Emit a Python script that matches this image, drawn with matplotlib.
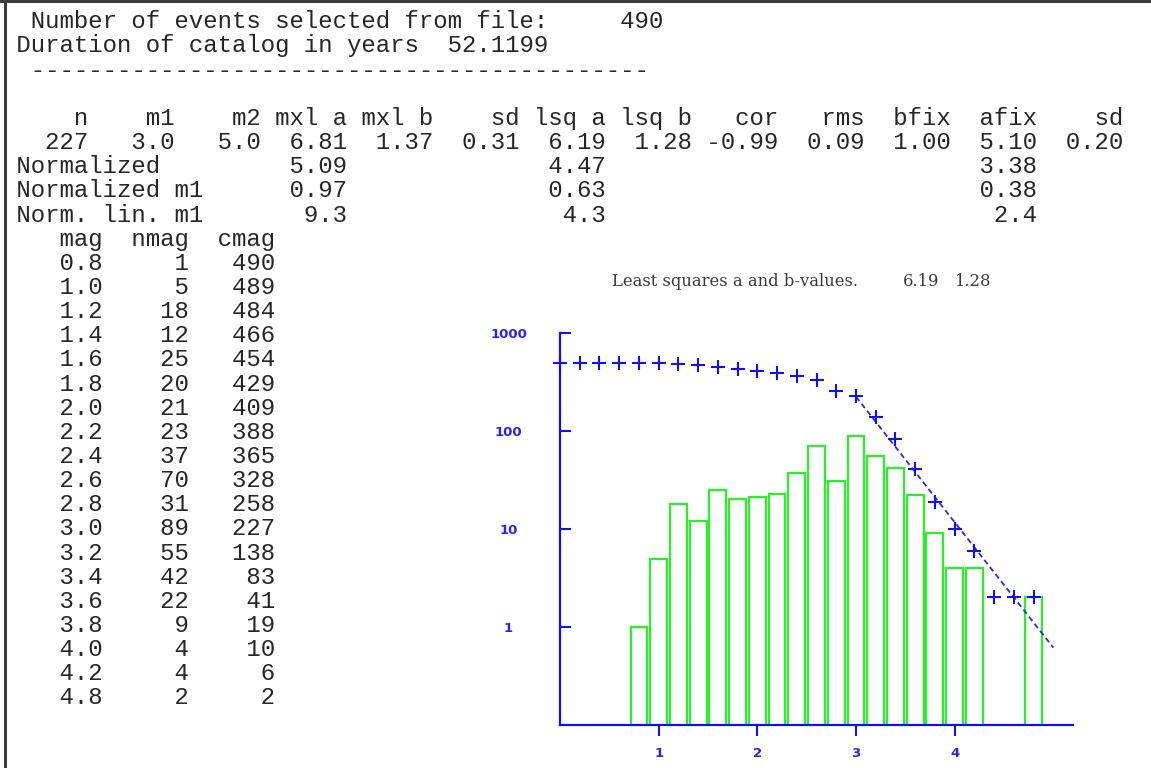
import matplotlib
matplotlib.use("Agg")
import matplotlib.pyplot as plt
from matplotlib.lines import Line2D
from matplotlib.font_manager import FontProperties

# ---------------------------------------------------------------- data
n_events = 490
duration_years = 52.1199

fit_header = ["n", "m1", "m2", "mxl a", "mxl b", "sd", "lsq a", "lsq b",
              "cor", "rms", "bfix", "afix", "sd"]
fit_values = ["227", "3.0", "5.0", "6.81", "1.37", "0.31", "6.19", "1.28",
              "-0.99", "0.09", "1.00", "5.10", "0.20"]

norm_labels = ["Normalized", "Normalized m1", "Norm. lin. m1"]
norm_mxl = ["5.09", "0.97", "9.3"]
norm_lsq = ["4.47", "0.63", "4.3"]
norm_fix = ["3.38", "0.38", "2.4"]

mag = [0.8, 1.0, 1.2, 1.4, 1.6, 1.8, 2.0, 2.2, 2.4, 2.6, 2.8, 3.0, 3.2,
       3.4, 3.6, 3.8, 4.0, 4.2, 4.8]
nmag = [1, 5, 18, 12, 25, 20, 21, 23, 37, 70, 31, 89, 55, 42, 22, 9, 4, 4, 2]
cmag = [490, 489, 484, 466, 454, 429, 409, 388, 365, 328, 258, 227, 138,
        83, 41, 19, 10, 6, 2]

# cumulative counts on the full 0.2 magnitude grid used by the plot
cum_mag = [0.0, 0.2, 0.4, 0.6, 0.8, 1.0, 1.2, 1.4, 1.6, 1.8, 2.0, 2.2, 2.4,
           2.6, 2.8, 3.0, 3.2, 3.4, 3.6, 3.8, 4.0, 4.2, 4.4, 4.6, 4.8]
cum_n = [490, 490, 490, 490, 490, 489, 484, 466, 454, 429, 409, 388, 365,
         328, 258, 227, 138, 83, 41, 19, 10, 6, 2, 2, 2]

m1, m2 = 3.0, 5.0
lsq_a, lsq_b = 6.19, 1.28

y_ticks = [1, 10, 100, 1000]
y_tick_labels = ["1", "10", "100", "1000"]
x_ticks = [1, 2, 3, 4]
x_tick_labels = ["1", "2", "3", "4"]

# ---------------------------------------------------------------- figure
W, H = 1151, 768
DPI = 100
fig = plt.figure(figsize=(W / DPI, H / DPI), dpi=DPI)
fig.patch.set_facecolor("white")

def fx(px):
    return px / W

def fy(py):
    return 1 - py / H

# frame lines on the left and top edges
fig.add_artist(Line2D([fx(4.5), fx(4.5)], [0, 1], color="#3c3c3c", lw=2.2))
fig.add_artist(Line2D([0, 1], [fy(1.2), fy(1.2)], color="#3c3c3c", lw=2.2))

# ---------------------------------------------------------------- text listing
CHAR_W = 14.42                       # advance of one monospace cell in pixels
MONO_SIZE = CHAR_W / 0.6 * 72 / DPI  # Liberation Mono advance = 0.6 em
X0 = 2.0
BASE0 = 28.3
PITCH = 24.15
TXT = "#262626"

lines = {}
lines[0] = "  Number of events selected from file:" + f"{n_events:8d}"
lines[1] = " Duration of catalog in years" + f"{duration_years:9.4f}"
lines[2] = "  " + "-" * 43
lines[4] = "".join(f"{h:>6}" for h in fit_header)
lines[5] = "".join(f"{v:>6}" for v in fit_values)
for i, lab in enumerate(norm_labels):
    lines[6 + i] = (f" {lab:<17}{norm_mxl[i]:>6}{'':12}{norm_lsq[i]:>6}"
                    f"{'':24}{norm_fix[i]:>6}")
lines[9] = "    mag  nmag  cmag"
for i, (m, n, c) in enumerate(zip(mag, nmag, cmag)):
    lines[10 + i] = f"    {m:3.1f}{n:6d}{c:6d}"

for k, s in lines.items():
    fig.text(fx(X0), fy(BASE0 + PITCH * k), s, family="Liberation Mono",
             fontsize=MONO_SIZE, color=TXT, ha="left", va="baseline")

# ---------------------------------------------------------------- plot
BLUE = "#1010f0"
GREEN = "#2af02a"

ax = fig.add_axes([fx(560), fy(725), (1073 - 560) / W, (725 - 333) / H])
ax.set_facecolor("none")
ax.set_yscale("log")

ax.bar(mag, nmag, width=0.17, fill=False, edgecolor=GREEN, linewidth=1.6)

ax.plot(cum_mag, cum_n, linestyle="none", marker="+", color=BLUE,
        markersize=10, markeredgewidth=1.5, clip_on=False, zorder=4)

m_fit = [m1, m2]
n_fit = [10 ** (lsq_a - lsq_b * m) for m in m_fit]
ax.plot(m_fit, n_fit, color="#2a2ad6", lw=1.3, dashes=(3, 2), zorder=3)

ax.set_xlim(0, 5.2)
ax.set_ylim(0.1, 1000)

for side in ("top", "right"):
    ax.spines[side].set_visible(False)
for side in ("left", "bottom"):
    ax.spines[side].set_color(BLUE)
    ax.spines[side].set_linewidth(1.6)

ax.set_yticks(y_ticks)
ax.set_yticklabels(y_tick_labels)
ax.yaxis.set_minor_locator(matplotlib.ticker.NullLocator())
ax.set_xticks(x_ticks)
ax.set_xticklabels(x_tick_labels)

tick_font = FontProperties(family="DejaVu Sans", size=9.5, weight="bold")
ax.tick_params(axis="y", direction="in", length=8, width=1.5, color=BLUE,
               pad=37, labelcolor="#2828e0")
ax.tick_params(axis="x", direction="out", length=8, width=1.5, color=BLUE,
               pad=8, labelcolor="#2828e0")
for lbl in ax.get_yticklabels():
    lbl.set_ha("center")
    lbl.set_fontproperties(tick_font)
for lbl in ax.get_xticklabels():
    lbl.set_fontproperties(tick_font)

# fit summary above the plot
TITLE = dict(family="DejaVu Serif", fontsize=11.8, color="#3a3a3a",
             va="baseline", ha="left")
fig.text(fx(612), fy(286), "Least squares a and b-values.", **TITLE)
fig.text(fx(903), fy(286), f"{lsq_a:.2f}", **TITLE)
fig.text(fx(954), fy(286), f"{lsq_b:.2f}", **TITLE)

fig.savefig("out.png", dpi=DPI, facecolor="white")
